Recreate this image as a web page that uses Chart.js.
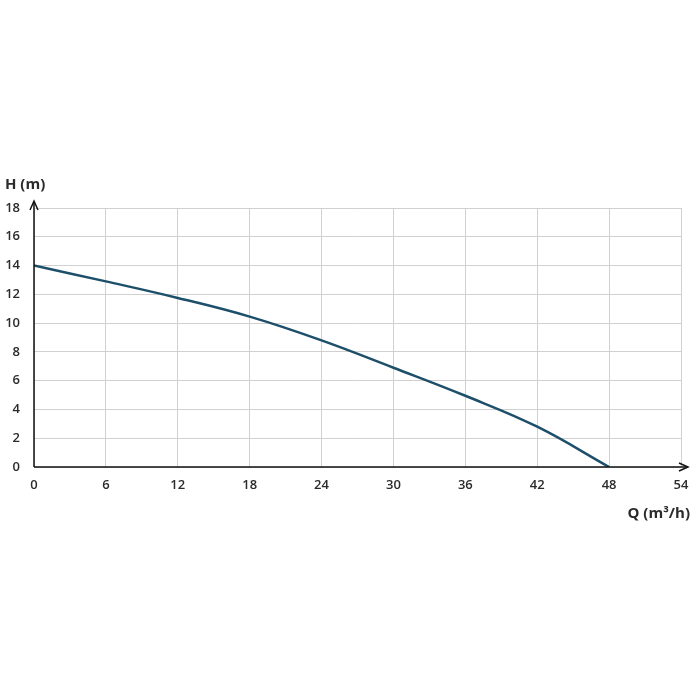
<!DOCTYPE html>
<html>
<head>
<meta charset="utf-8">
<script src="https://cdn.jsdelivr.net/npm/chart.js@4"></script>
<style>
  html, body { margin: 0; padding: 0; background: #fff; }
  #box { width: 700px; height: 700px; }
</style>
</head>
<body>
<div id="box"><canvas id="grafico"></canvas></div>
<script>
// caudal Q (m3/h) e altura H (m)
const caudal = [0, 6, 12, 18, 24, 30, 36, 42, 48];
const altura = [14, 12.9, 11.75, 10.45, 8.8, 6.9, 4.95, 2.8, 0];
const ticksQ = [0, 6, 12, 18, 24, 30, 36, 42, 48, 54];
const ticksH = [0, 2, 4, 6, 8, 10, 12, 14, 16, 18];

const corTexto = "#2b2b2b";
const fonte = { family: "Open Sans", size: 13, weight: "600" };

// eixos com setas e títulos
const eixosPlugin = {
  id: "eixos",
  afterDraw(chart) {
    const { ctx, chartArea: a } = chart;
    ctx.save();
    ctx.strokeStyle = "#111";
    ctx.lineWidth = 1.5;
    ctx.beginPath();
    ctx.moveTo(a.left, a.bottom);
    ctx.lineTo(a.left, a.top - 6);
    ctx.moveTo(a.left, a.bottom);
    ctx.lineTo(a.right + 6, a.bottom);
    ctx.stroke();
    ctx.beginPath();
    ctx.moveTo(a.left - 4, a.top + 2);
    ctx.lineTo(a.left, a.top - 7);
    ctx.lineTo(a.left + 4, a.top + 2);
    ctx.stroke();
    ctx.beginPath();
    ctx.moveTo(a.right - 2, a.bottom - 4);
    ctx.lineTo(a.right + 7, a.bottom);
    ctx.lineTo(a.right - 2, a.bottom + 4);
    ctx.stroke();
    ctx.fillStyle = corTexto;
    ctx.font = "bold 15px 'Open Sans'";
    ctx.textBaseline = "middle";
    ctx.textAlign = "left";
    ctx.fillText("H (m)", 5, 185);
    ctx.textAlign = "right";
    ctx.fillText("Q (m³/h)", 690, 514);
    ctx.restore();
  }
};

new Chart(document.getElementById("grafico"), {
  type: "scatter",
  data: {
    datasets: [{
      data: caudal.map((q, i) => ({ x: q, y: altura[i] })),
      showLine: true,
      borderColor: "#1d4f6a",
      borderWidth: 2.5,
      pointRadius: 0,
      tension: 0.4
    }]
  },
  options: {
    responsive: true,
    maintainAspectRatio: false,
    animation: false,
    layout: { padding: { top: 208, right: 19, bottom: 208, left: 0 } },
    plugins: { legend: { display: false }, tooltip: { enabled: false } },
    scales: {
      x: {
        type: "linear", min: 0, max: 54,
        afterBuildTicks: s => { s.ticks = ticksQ.map(v => ({ value: v })); },
        afterFit: s => { s.height = 25; },
        grid: { color: "#d0d0d0", drawTicks: false },
        border: { display: false },
        ticks: { color: corTexto, font: fonte, padding: 10 }
      },
      y: {
        type: "linear", min: 0, max: 18,
        afterBuildTicks: s => { s.ticks = ticksH.map(v => ({ value: v })); },
        afterFit: s => { s.width = 34; },
        grid: { color: "#d0d0d0", drawTicks: false },
        border: { display: false },
        ticks: { color: corTexto, font: fonte, padding: 14 }
      }
    }
  },
  plugins: [eixosPlugin]
});
</script>
</body>
</html>
